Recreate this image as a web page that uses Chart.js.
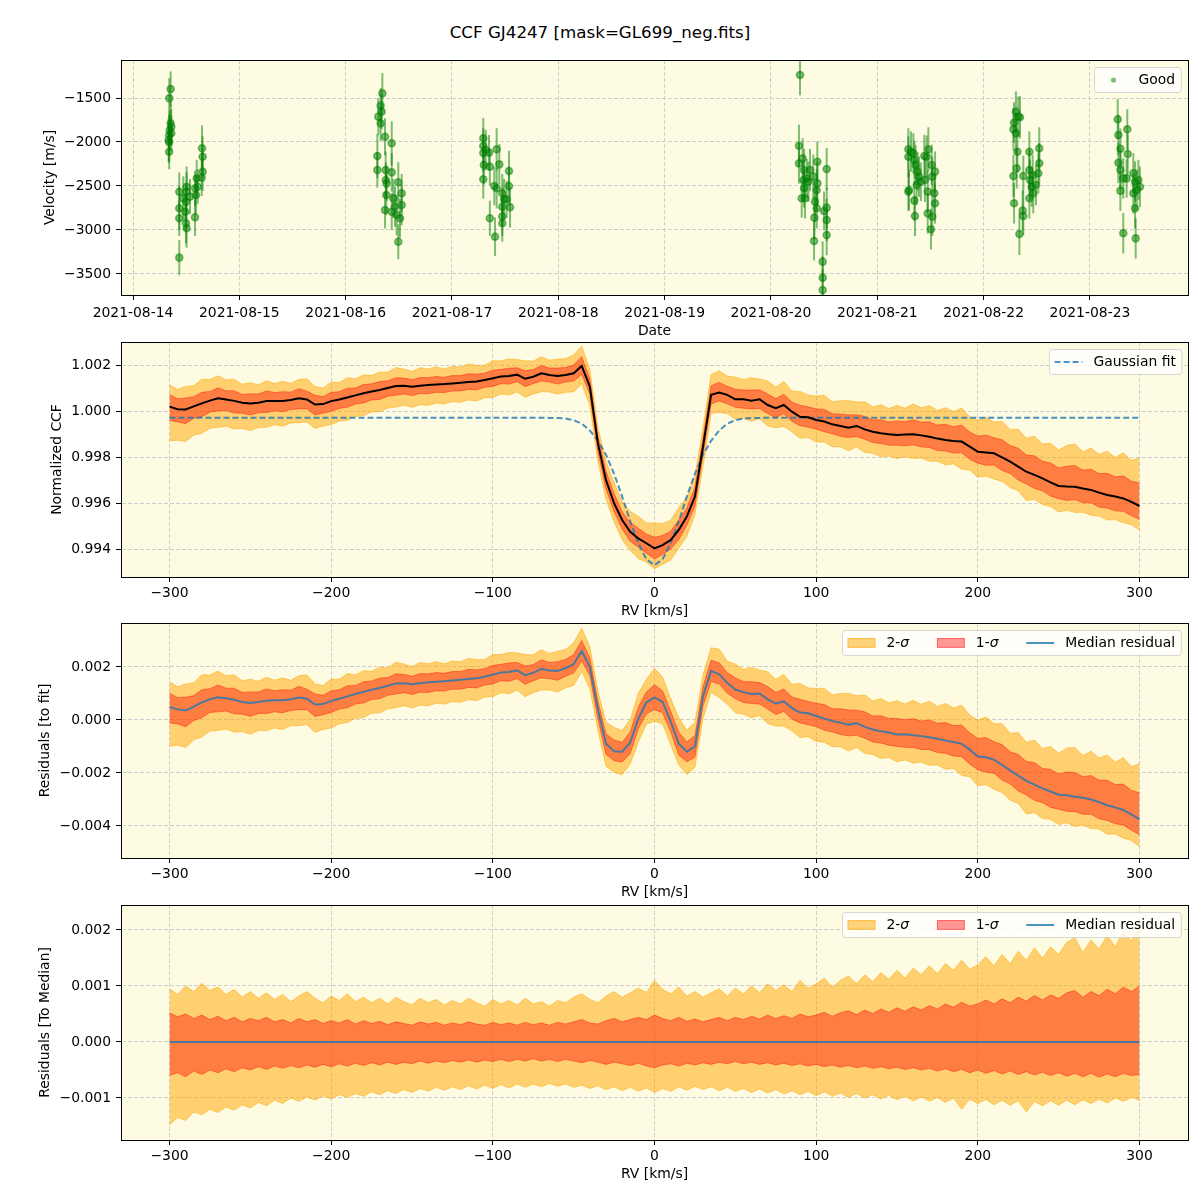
<!DOCTYPE html>
<html>
<head>
<meta charset="utf-8">
<script src="https://cdn.jsdelivr.net/npm/chart.js@4.4.0/dist/chart.umd.min.js"></script>
<style>
  body { margin: 0; width: 1200px; height: 1200px; background: #fff; position: relative; overflow: hidden; }
  #title { position: absolute; top: 22px; left: 0; width: 1200px; text-align: center; line-height: 20px;
           font-family: "DejaVu Sans", sans-serif; font-size: 16.7px; color: #000; }
  canvas { position: absolute; left: 0; }
</style>
</head>
<body>
<div id="title">CCF GJ4247 [mask=GL699_neg.fits]</div>
<canvas id="c1" width="1200" height="290" style="top:50px"></canvas>
<canvas id="c2" width="1200" height="288" style="top:332px"></canvas>
<canvas id="c3" width="1200" height="288" style="top:613px"></canvas>
<canvas id="c4" width="1200" height="288" style="top:895px"></canvas>
<script>
// ---- panel 1: velocities (days after 2021-08-14 00:00) ----
const obsDay = [
  0.354,0.341,0.354,0.36,0.345,0.36,0.34,0.335,0.34,0.34,0.435,0.435,0.435,0.435,0.504,0.504,0.498,0.492,0.498,0.504,
  0.473,0.536,0.583,0.592,0.583,0.599,0.608,0.649,0.655,0.655,0.646,
  2.345,2.329,2.338,2.307,2.329,2.37,2.433,2.298,2.298,2.376,2.433,2.378,2.385,2.495,2.382,2.37,2.448,2.433,2.48,2.511,
  2.527,2.527,2.464,2.495,
  3.294,3.294,3.294,3.317,3.348,3.30,3.294,3.356,3.42,3.445,3.398,3.42,3.536,3.536,3.473,3.49,3.514,3.473,3.546,3.473,
  3.473,3.356,3.405,
  6.273,6.263,6.263,6.298,6.311,6.305,6.336,6.352,6.311,6.32,6.289,6.367,6.398,6.436,6.436,6.43,6.414,6.43,6.408,6.405,
  6.524,6.524,6.524,6.524,6.499,6.486,6.486,6.486,
  7.292,7.292,7.317,7.339,7.348,7.36,7.379,7.392,7.41,7.37,7.298,7.292,7.348,7.354,7.442,7.48,7.464,7.448,7.474,7.511,
  7.517,7.543,7.536,7.543,7.474,7.517,7.505,
  8.304,8.326,8.286,8.28,8.304,8.342,8.317,8.311,8.28,8.373,8.286,8.367,8.373,8.336,8.43,8.43,8.436,8.452,8.467,8.43,
  8.461,8.492,8.523,8.523,8.514,
  9.261,9.267,9.351,9.286,9.267,9.355,9.286,9.313,9.345,9.286,9.408,9.424,9.455,9.47,9.408,9.44,9.424,9.313,9.43
];
const obsVel = [
  -1398,-1504,-1788,-1826,-1864,-1901,-1920,-1977,-2004,-2110,-2565,-2753,-2867,-3314,-2508,-2565,-2678,-2792,-2924,-2981,
  -2640,-2621,-2526,-2602,-2856,-2413,-2508,-2072,-2167,-2337,-2405,
  -1447,-1587,-1655,-1712,-1788,-1940,-2015,-2159,-2318,-2318,-2345,-2432,-2470,-2458,-2602,-2773,-2640,-2792,-2830,-2867,
  -2716,-2583,-2735,-3133,
  -1958,-2045,-2125,-2091,-2121,-2261,-2424,-2280,-2083,-2254,-2500,-2526,-2330,-2500,-2583,-2651,-2651,-2735,-2742,-2848,
  -2924,-2867,-3076,
  -1239,-2042,-2243,-2186,-2318,-2432,-2413,-2451,-2526,-2640,-2640,-2318,-2394,-2224,-2470,-2545,-2678,-2753,-2860,-3125,
  -2307,-2746,-2886,-3057,-2784,-3360,-3542,-3682,
  -2083,-2167,-2110,-2129,-2205,-2261,-2337,-2394,-2451,-2489,-2545,-2564,-2666,-2841,-2159,-2083,-2167,-2432,-2564,-2261,
  -2394,-2337,-2583,-2697,-2811,-2848,-2992,
  -1655,-1712,-1780,-1856,-1901,-1719,-2110,-2299,-2386,-2386,-2697,-2780,-2841,-3045,-2110,-2318,-2432,-2508,-2583,-2640,
  -2375,-2489,-2072,-2242,-2356,
  -1742,-1920,-1856,-2077,-2235,-2136,-2318,-2413,-2413,-2553,-2356,-2451,-2432,-2508,-2583,-2545,-2753,-3038,-3095
];
const obsErr = [
  200,230,230,200,220,200,230,250,230,200,220,250,200,200,230,220,200,210,230,220,
  250,200,200,220,210,210,200,260,230,220,210,
  230,200,200,210,200,210,250,250,200,210,220,200,200,230,230,210,220,210,230,220,
  230,220,230,200,
  230,200,210,230,200,220,220,210,240,230,220,230,230,220,220,230,210,220,230,220,
  210,200,220,
  230,240,230,230,240,220,220,230,220,230,220,240,250,230,250,240,230,230,250,220,
  240,230,240,230,220,230,240,230,
  240,230,230,230,220,230,220,230,220,230,230,220,230,230,240,250,240,250,240,230,
  230,230,220,230,230,220,230,
  230,230,230,240,230,240,240,230,240,230,230,230,220,240,230,230,230,230,230,230,
  230,230,240,230,230,
  230,230,230,230,230,230,230,230,220,230,230,230,230,230,230,230,230,230,230
];
const dateTicks = [0, 1, 2, 3, 4, 5, 6, 7, 8, 9];
const dateLabels = ['2021-08-14','2021-08-15','2021-08-16','2021-08-17','2021-08-18',
                    '2021-08-19','2021-08-20','2021-08-21','2021-08-22','2021-08-23'];
const velTicks = [-3500, -3000, -2500, -2000, -1500];

// ---- panels 2-4: CCF profile on RV grid ----
const rvGrid = [
  -300,-295,-290,-285,-280,-275,-270,-265,-260,-255,-250,-245,-240,-235,-230,-225,-220,-215,-210,-205,
  -200,-195,-190,-185,-180,-175,-170,-165,-160,-155,-150,-145,-140,-135,-130,-125,-120,-115,-110,-105,
  -100,-95,-90,-85,-80,-75,-70,-65,-60,-55,-50,-45,-40,-35,-30,-25,-20,-15,-10,-5,
  0,5,10,15,20,25,30,35,40,45,50,55,60,65,70,75,80,85,90,95,
  100,105,110,115,120,125,130,135,140,145,150,155,160,165,170,175,180,185,190,195,
  200,205,210,215,220,225,230,235,240,245,250,255,260,265,270,275,280,285,290,295,300
];
const ccfMedian = [
  1.00019,1.00008,1.00007,1.00020,1.00033,1.00045,1.00055,1.00050,1.00044,1.00036,
  1.00033,1.00036,1.00043,1.00044,1.00044,1.00048,1.00055,1.00050,1.00028,1.00030,
  1.00043,1.00050,1.00059,1.00068,1.00077,1.00085,1.00091,1.00100,1.00109,1.00110,
  1.00106,1.00110,1.00113,1.00115,1.00117,1.00120,1.00123,1.00126,1.00128,1.00135,
  1.00142,1.00150,1.00152,1.00158,1.00140,1.00149,1.00164,1.00157,1.00152,1.00157,
  1.00164,1.00196,1.00106,0.99859,0.99700,0.99599,0.99526,0.99475,0.99446,0.99425,
  0.99403,0.99417,0.99439,0.99483,0.99541,0.99628,0.99845,1.00070,1.00080,1.00070,
  1.00051,1.00051,1.00045,1.00051,1.00026,1.00012,1.00026,0.99997,0.99975,0.99973,
  0.99961,0.99954,0.99942,0.99935,0.99927,0.99935,0.99920,0.99910,0.99903,0.99899,
  0.99896,0.99898,0.99899,0.99894,0.99888,0.99880,0.99874,0.99870,0.99867,0.99845,
  0.99823,0.99820,0.99816,0.99798,0.99780,0.99758,0.99736,0.99722,0.99707,0.99690,
  0.99674,0.99672,0.99671,0.99663,0.99657,0.99645,0.99635,0.99628,0.99620,0.99605,
  0.99587
];
const gaussFit = [
  0.99971,0.99971,0.99971,0.99971,0.99971,0.99971,0.99971,0.99971,0.99971,0.99971,
  0.99971,0.99971,0.99971,0.99971,0.99971,0.99971,0.99971,0.99971,0.99971,0.99971,
  0.99971,0.99971,0.99971,0.99971,0.99971,0.99971,0.99971,0.99971,0.99971,0.99971,
  0.99971,0.99971,0.99971,0.99971,0.99971,0.99971,0.99971,0.99971,0.99971,0.99971,
  0.99971,0.99971,0.99971,0.99971,0.99971,0.99971,0.99971,0.99970,0.99970,0.99967,
  0.99960,0.99945,0.99915,0.99870,0.99810,0.99727,0.99628,0.99520,0.99425,0.99355,
  0.99330,0.99355,0.99425,0.99520,0.99628,0.99727,0.99810,0.99870,0.99915,0.99945,
  0.99960,0.99967,0.99970,0.99970,0.99971,0.99971,0.99971,0.99971,0.99971,0.99971,
  0.99971,0.99971,0.99971,0.99971,0.99971,0.99971,0.99971,0.99971,0.99971,0.99971,
  0.99971,0.99971,0.99971,0.99971,0.99971,0.99971,0.99971,0.99971,0.99971,0.99971,
  0.99971,0.99971,0.99971,0.99971,0.99971,0.99971,0.99971,0.99971,0.99971,0.99971,
  0.99971,0.99971,0.99971,0.99971,0.99971,0.99971,0.99971,0.99971,0.99971,0.99971,
  0.99971
];
const residMedian = [
  0.00049,0.00040,0.00036,0.00050,0.00066,0.00078,0.00086,0.00082,0.00076,0.00068,
  0.00064,0.00068,0.00073,0.00074,0.00074,0.00078,0.00085,0.00080,0.00058,0.00060,
  0.00072,0.00080,0.00089,0.00098,0.00106,0.00114,0.00121,0.00129,0.00138,0.00139,
  0.00135,0.00139,0.00142,0.00144,0.00146,0.00149,0.00152,0.00155,0.00157,0.00164,
  0.00171,0.00179,0.00181,0.00187,0.00169,0.00178,0.00193,0.00187,0.00185,0.00196,
  0.00211,0.00260,0.00200,0.00040,-0.00090,-0.00118,-0.00120,-0.00085,0.00005,0.00066,
  0.00085,0.00068,-0.00005,-0.00090,-0.00120,-0.00100,0.00090,0.00185,0.00172,0.00140,
  0.00115,0.00105,0.00098,0.00100,0.00078,0.00062,0.00070,0.00045,0.00028,0.00025,
  0.00015,0.00005,-0.00004,-0.00010,-0.00018,-0.00012,-0.00026,-0.00036,-0.00043,-0.00047,
  -0.00055,-0.00054,-0.00058,-0.00061,-0.00065,-0.00071,-0.00078,-0.00083,-0.00090,-0.00112,
  -0.00138,-0.00141,-0.00150,-0.00170,-0.00190,-0.00210,-0.00230,-0.00244,-0.00258,-0.00270,
  -0.00282,-0.00284,-0.00290,-0.00294,-0.00300,-0.00310,-0.00322,-0.00330,-0.00340,-0.00356,
  -0.00375
];
// band edges relative to the median (as in the bottom panel)
const sig2Up = [
  .00095,.00085,.00100,.00090,.00105,.00092,.00098,.00085,.00094,.00080,
  .00090,.00078,.00088,.00076,.00085,.00072,.00082,.00090,.00078,.00070,
  .00082,.00074,.00086,.00072,.00080,.00070,.00078,.00068,.00080,.00072,
  .00066,.00078,.00070,.00076,.00066,.00074,.00068,.00078,.00070,.00064,
  .00076,.00068,.00074,.00066,.00078,.00068,.00072,.00064,.00074,.00070,
  .00080,.00086,.00076,.00070,.00082,.00090,.00080,.00088,.00096,.00088,
  .00110,.00094,.00086,.00098,.00082,.00090,.00080,.00088,.00095,.00082,
  .00096,.00086,.00100,.00088,.00104,.00092,.00102,.00090,.00110,.00096,
  .00104,.00114,.00098,.00110,.00118,.00104,.00120,.00108,.00124,.00112,
  .00128,.00114,.00132,.00120,.00136,.00122,.00140,.00128,.00146,.00130,
  .00138,.00152,.00136,.00156,.00140,.00162,.00146,.00168,.00150,.00170,
  .00156,.00178,.00186,.00160,.00182,.00166,.00190,.00170,.00198,.00180,
  .00210
];
const sig1Up = [
  .00052,.00045,.00050,.00042,.00048,.00040,.00046,.00038,.00044,.00036,
  .00042,.00038,.00044,.00036,.00040,.00034,.00042,.00036,.00040,.00033,
  .00038,.00034,.00040,.00032,.00038,.00033,.00037,.00031,.00036,.00033,
  .00030,.00036,.00032,.00035,.00030,.00034,.00031,.00036,.00032,.00030,
  .00035,.00031,.00034,.00030,.00035,.00031,.00034,.00030,.00035,.00032,
  .00036,.00040,.00034,.00032,.00038,.00042,.00036,.00040,.00044,.00040,
  .00048,.00042,.00038,.00044,.00037,.00041,.00036,.00040,.00044,.00038,
  .00044,.00040,.00046,.00041,.00048,.00042,.00047,.00042,.00050,.00045,
  .00048,.00053,.00046,.00052,.00056,.00049,.00057,.00051,.00059,.00053,
  .00061,.00055,.00063,.00057,.00065,.00059,.00068,.00062,.00071,.00064,
  .00068,.00075,.00068,.00077,.00070,.00080,.00073,.00083,.00075,.00084,
  .00078,.00088,.00092,.00080,.00090,.00083,.00094,.00086,.00098,.00090,
  .00100
];
const sig1Lo = [
  -.00060,-.00055,-.00062,-.00052,-.00058,-.00050,-.00055,-.00048,-.00053,-.00046,
  -.00050,-.00044,-.00049,-.00043,-.00047,-.00042,-.00046,-.00041,-.00045,-.00040,
  -.00044,-.00039,-.00043,-.00038,-.00042,-.00037,-.00041,-.00036,-.00040,-.00036,
  -.00039,-.00034,-.00038,-.00034,-.00037,-.00033,-.00036,-.00032,-.00036,-.00032,
  -.00035,-.00031,-.00035,-.00031,-.00034,-.00030,-.00034,-.00031,-.00035,-.00031,
  -.00034,-.00037,-.00033,-.00036,-.00040,-.00036,-.00039,-.00042,-.00038,-.00043,
  -.00046,-.00041,-.00039,-.00043,-.00038,-.00041,-.00037,-.00040,-.00036,-.00039,
  -.00035,-.00039,-.00036,-.00040,-.00037,-.00041,-.00038,-.00042,-.00039,-.00043,
  -.00040,-.00044,-.00041,-.00045,-.00042,-.00046,-.00043,-.00047,-.00044,-.00048,
  -.00045,-.00049,-.00046,-.00050,-.00047,-.00052,-.00048,-.00053,-.00049,-.00055,
  -.00050,-.00056,-.00051,-.00057,-.00052,-.00058,-.00053,-.00059,-.00054,-.00060,
  -.00055,-.00061,-.00056,-.00062,-.00056,-.00063,-.00057,-.00062,-.00056,-.00060,
  -.00058
];
const sig2Lo = [
  -.00148,-.00135,-.00140,-.00125,-.00130,-.00120,-.00126,-.00116,-.00122,-.00112,
  -.00118,-.00108,-.00114,-.00104,-.00110,-.00100,-.00106,-.00098,-.00104,-.00096,
  -.00102,-.00094,-.00099,-.00092,-.00097,-.00089,-.00094,-.00087,-.00092,-.00085,
  -.00090,-.00083,-.00088,-.00081,-.00086,-.00080,-.00085,-.00078,-.00084,-.00077,
  -.00083,-.00076,-.00082,-.00075,-.00081,-.00075,-.00080,-.00074,-.00079,-.00075,
  -.00081,-.00077,-.00083,-.00078,-.00085,-.00080,-.00087,-.00081,-.00088,-.00082,
  -.00090,-.00083,-.00088,-.00080,-.00086,-.00079,-.00085,-.00080,-.00087,-.00081,
  -.00088,-.00083,-.00090,-.00084,-.00091,-.00085,-.00093,-.00087,-.00094,-.00088,
  -.00096,-.00089,-.00097,-.00091,-.00099,-.00092,-.00100,-.00094,-.00102,-.00095,
  -.00103,-.00097,-.00105,-.00098,-.00106,-.00099,-.00108,-.00100,-.00120,-.00102,
  -.00110,-.00103,-.00112,-.00104,-.00113,-.00105,-.00125,-.00106,-.00114,-.00105,
  -.00113,-.00104,-.00112,-.00103,-.00110,-.00102,-.00109,-.00100,-.00106,-.00099,
  -.00104
];
const toMedian = rvGrid.map(() => 0);
const rvTicks = [-300, -200, -100, 0, 100, 200, 300];
const ccfTicks = [0.994, 0.996, 0.998, 1.000, 1.002];
const residTicks = [-0.004, -0.002, 0, 0.002];
const medTicks = [-0.001, 0, 0.001, 0.002];

// ---- styling ----
Chart.defaults.font.family = '"DejaVu Sans", sans-serif';
Chart.defaults.font.size = 13.9;
Chart.defaults.color = '#000';
Chart.defaults.animation = false;

const BG = '#fdfbe1';
const ORANGE = 'rgba(255,165,0,0.5)';
const RED = 'rgba(255,0,0,0.4)';
const BLUE = 'rgba(31,119,180,0.8)';
const GREEN = 'rgba(0,128,0,0.5)';

const fmt = (v, d) => (v < -1e-12 ? '\u2212' : '') + Math.abs(v).toFixed(d);
const pts = (xs, ys) => xs.map((x, i) => ({x, y: ys[i]}));

const gridOpts = () => ({ color: '#cfcfcf', lineWidth: 1, tickColor: '#000', tickLength: 5, tickWidth: 1, tickBorderDash: [] });
const borderOpts = () => ({ color: '#000', width: 1, dash: [4, 2] });

function xScale(min, max, ticks, label, cb, h = 43, pad = 3) {
  return {
    type: 'linear', min, max,
    afterBuildTicks: s => { s.ticks = ticks.map(v => ({value: v})); },
    afterFit: s => { s.height = h; s.paddingLeft = 0; s.paddingRight = 0; },
    ticks: { callback: cb, padding: pad, autoSkip: false, maxRotation: 0, minRotation: 0 },
    grid: gridOpts(), border: borderOpts(),
    title: { display: true, text: label, padding: {top: 0, bottom: 0} }
  };
}
function yScale(min, max, ticks, label, dec, pad) {
  return {
    type: 'linear', min, max,
    afterBuildTicks: s => { s.ticks = ticks.map(v => ({value: v})); },
    afterFit: s => { s.width = 121; s.paddingTop = 0; s.paddingBottom = 0; },
    ticks: { callback: v => fmt(v, dec), padding: 5 },
    grid: gridOpts(), border: borderOpts(),
    title: { display: true, text: label, padding: {top: pad, bottom: 0} }
  };
}
function baseOptions(x, y) {
  return {
    responsive: false, devicePixelRatio: 1, animation: false,
    layout: { padding: {top: 10, left: 0, right: 12, bottom: 0} },
    plugins: { legend: {display: false}, tooltip: {enabled: false} },
    elements: { point: { radius: 0, hoverRadius: 0 }, line: { tension: 0 } },
    scales: { x, y }
  };
}

// chart-area fill and four-sided frame
const framePlugin = {
  id: 'frame',
  beforeDraw(chart) {
    const {ctx, chartArea: a} = chart;
    ctx.save(); ctx.fillStyle = BG; ctx.fillRect(a.left, a.top, a.width, a.height); ctx.restore();
  },
  afterDraw(chart) {
    const {ctx, chartArea: a} = chart;
    ctx.save(); ctx.strokeStyle = '#000'; ctx.lineWidth = 1;
    ctx.strokeRect(a.left + 0.5, a.top + 0.5, a.width, a.height); ctx.restore();
  }
};

// legend drawn inside the axes, top right, like matplotlib
function legendPlugin(items) {
  return {
    id: 'insideLegend',
    afterDraw(chart) {
      const ctx = chart.ctx, a = chart.chartArea;
      const fs = 13.9, hl = 27.8, tp = 11.1, cs = 27.8, bp = 5.6, h = 25;
      const fN = fs + 'px "DejaVu Sans"', fI = 'italic ' + fN;
      ctx.save();
      const segW = g => { ctx.font = g.i ? fI : fN; return ctx.measureText(g.t).width; };
      const tw = items.map(it => it.label.reduce((s, g) => s + segW(g), 0));
      const w = bp * 2 + tw.reduce((s, v) => s + hl + tp + v, 0) + cs * (items.length - 1);
      const x0 = Math.round(a.right - 7 - w), y0 = a.top + 7;
      ctx.beginPath(); ctx.roundRect(x0 + 0.5, y0 + 0.5, w, h, 3);
      ctx.fillStyle = 'rgba(255,255,255,0.8)'; ctx.fill();
      ctx.strokeStyle = 'rgba(204,204,204,0.8)'; ctx.lineWidth = 1; ctx.stroke();
      let x = x0 + bp; const cy = y0 + h / 2 + 0.5;
      items.forEach(it => {
        ctx.setLineDash([]);
        if (it.kind === 'dot') {
          ctx.beginPath(); ctx.arc(x + hl / 2, cy, 2.6, 0, Math.PI * 2); ctx.fillStyle = it.color; ctx.fill();
        } else if (it.kind === 'patch') {
          ctx.fillStyle = it.color; ctx.fillRect(x, cy - 4.9, hl, 9.7);
          ctx.strokeStyle = it.color; ctx.lineWidth = 1; ctx.strokeRect(x + 0.5, cy - 4.4, hl - 1, 8.7);
        } else {
          ctx.strokeStyle = it.color; ctx.lineWidth = it.width || 1.5;
          if (it.dash) ctx.setLineDash(it.dash);
          ctx.beginPath(); ctx.moveTo(x, cy); ctx.lineTo(x + hl, cy); ctx.stroke();
          ctx.setLineDash([]);
        }
        x += hl + tp;
        ctx.fillStyle = '#000'; ctx.textBaseline = 'middle'; ctx.textAlign = 'left';
        it.label.forEach(g => { ctx.font = g.i ? fI : fN; ctx.fillText(g.t, x, cy); x += ctx.measureText(g.t).width; });
        x += cs;
      });
      ctx.restore();
    }
  };
}

// vertical error bars for the velocity panel
const errorBarPlugin = {
  id: 'errorBars',
  beforeDatasetsDraw(chart) {
    const {ctx, chartArea: a, scales: {x, y}} = chart;
    ctx.save();
    ctx.beginPath(); ctx.rect(a.left, a.top, a.width, a.height); ctx.clip();
    ctx.strokeStyle = GREEN; ctx.lineWidth = 2;
    obsDay.forEach((d, i) => {
      const px = x.getPixelForValue(d);
      ctx.beginPath();
      ctx.moveTo(px, y.getPixelForValue(obsVel[i] - obsErr[i]));
      ctx.lineTo(px, y.getPixelForValue(obsVel[i] + obsErr[i]));
      ctx.stroke();
    });
    ctx.restore();
  }
};

function bandSets(center) {
  const edge = off => rvGrid.map((x, i) => ({x, y: center[i] + off[i]}));
  return [
    { data: edge(sig2Lo), borderColor: ORANGE, borderWidth: 1, fill: false, order: 4 },
    { data: edge(sig2Up), borderColor: ORANGE, borderWidth: 1, backgroundColor: ORANGE, fill: '-1', order: 4 },
    { data: edge(sig1Lo), borderColor: RED, borderWidth: 1, fill: false, order: 3 },
    { data: edge(sig1Up), borderColor: RED, borderWidth: 1, backgroundColor: RED, fill: '-1', order: 3 }
  ];
}

const sigmaItems = [
  { kind: 'patch', color: ORANGE, label: [{t: '2-'}, {t: '\u03c3', i: true}] },
  { kind: 'patch', color: RED, label: [{t: '1-'}, {t: '\u03c3', i: true}] },
  { kind: 'line', color: BLUE, width: 2, label: [{t: 'Median residual'}] }
];
const rvFmt = v => fmt(v, 0);

// panel 1
new Chart(document.getElementById('c1'), {
  type: 'scatter',
  data: { datasets: [{
    data: pts(obsDay, obsVel), pointRadius: 3.5, pointHoverRadius: 3.5,
    pointBackgroundColor: GREEN, pointBorderColor: GREEN, pointBorderWidth: 1.6
  }] },
  options: baseOptions(
    xScale(-0.113, 9.922, dateTicks, 'Date', (v, i) => dateLabels[i], 45, 5),
    yScale(-3739, -1068, velTicks, 'Velocity [m/s]', 0, 41.7)),
  plugins: [framePlugin, errorBarPlugin, legendPlugin([{ kind: 'dot', color: GREEN, label: [{t: 'Good'}] }])]
});

// panel 2
new Chart(document.getElementById('c2'), {
  type: 'line',
  data: { datasets: bandSets(ccfMedian).concat([
    { data: pts(rvGrid, gaussFit), borderColor: BLUE, borderWidth: 2, borderDash: [6, 3], fill: false, order: 2 },
    { data: pts(rvGrid, ccfMedian), borderColor: '#000', borderWidth: 2, fill: false, order: 1 }
  ]) },
  options: baseOptions(
    xScale(-330, 330, rvTicks, 'RV [km/s]', rvFmt),
    yScale(0.992783, 1.003, ccfTicks, 'Normalized CCF', 3, 48.7)),
  plugins: [framePlugin, legendPlugin([{ kind: 'line', color: BLUE, width: 2, dash: [6, 3], label: [{t: 'Gaussian fit'}] }])]
});

// panel 3
new Chart(document.getElementById('c3'), {
  type: 'line',
  data: { datasets: bandSets(residMedian).concat([
    { data: pts(rvGrid, residMedian), borderColor: BLUE, borderWidth: 2, fill: false, order: 1 }
  ]) },
  options: baseOptions(
    xScale(-330, 330, rvTicks, 'RV [km/s]', rvFmt),
    yScale(-0.00521, 0.00366, residTicks, 'Residuals [to fit]', 3, 36.7)),
  plugins: [framePlugin, legendPlugin(sigmaItems)]
});

// panel 4
new Chart(document.getElementById('c4'), {
  type: 'line',
  data: { datasets: bandSets(toMedian).concat([
    { data: pts(rvGrid, toMedian), borderColor: BLUE, borderWidth: 2, fill: false, order: 1 }
  ]) },
  options: baseOptions(
    xScale(-330, 330, rvTicks, 'RV [km/s]', rvFmt),
    yScale(-0.00175, 0.002446, medTicks, 'Residuals [To Median]', 3, 36.7)),
  plugins: [framePlugin, legendPlugin(sigmaItems)]
});
</script>
</body>
</html>
